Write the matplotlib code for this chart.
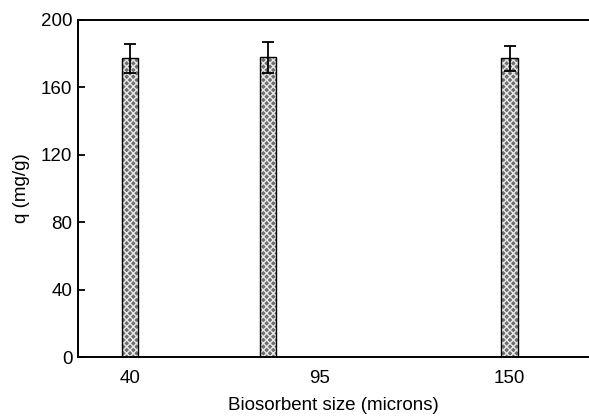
import matplotlib.pyplot as plt
import numpy as np

plt.rcParams['font.family'] = ['Liberation Sans', 'DejaVu Sans']

# bar centres as drawn in the figure, tick labels, values and error bars
bar_x = [40, 80, 150]
q_vals = [177.3, 177.9, 177.3]
q_err = [8.5, 9.3, 7.4]
tick_pos = [40, 95, 150]
tick_labels = ['40', '95', '150']
y_ticks = [0, 40, 80, 120, 160, 200]

fig = plt.figure(figsize=(5.89, 4.16), dpi=100)
ax = fig.add_axes([0.1324, 0.1418, 0.8676, 0.8102])

width = 4.75
# hatched fill, then the black outline on top
ax.bar(bar_x, q_vals, width=width, color='#6e6e6e', edgecolor='#e8e8e8',
       hatch='xxxxx', linewidth=0, zorder=2)
ax.bar(bar_x, q_vals, width=width, color='none', edgecolor='black',
       linewidth=1.0, zorder=3)
ax.errorbar(bar_x, q_vals, yerr=q_err, fmt='none', ecolor='black',
            elinewidth=1.3, capsize=4.5, capthick=1.3, zorder=4)

ax.set_xlim(25, 173)
ax.set_ylim(0, 200)
ax.set_xticks(tick_pos)
ax.set_xticklabels(tick_labels)
ax.set_yticks(y_ticks)
ax.tick_params(axis='x', length=0, pad=9, labelsize=13.5)
ax.tick_params(axis='y', direction='in', length=5, width=1.3, pad=4,
               labelsize=13.5)

ax.spines['right'].set_visible(False)
for s in ['left', 'top', 'bottom']:
    ax.spines[s].set_linewidth(1.4)

ax.set_xlabel('Biosorbent size (microns)', fontsize=13.5)
ax.set_ylabel('q (mg/g)', fontsize=13.5)
ax.xaxis.set_label_coords(0.5, -0.118)
ax.yaxis.set_label_coords(-0.094, 0.5)

fig.savefig('out.png', dpi=100)
